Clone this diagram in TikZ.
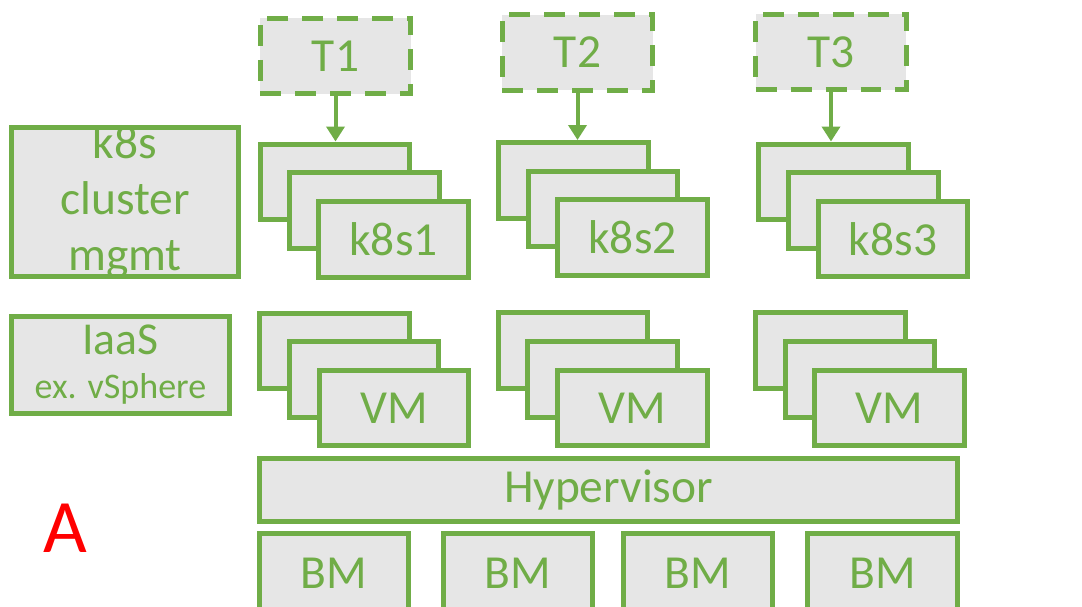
\documentclass[tikz,border=0pt]{standalone}
\usepackage{fontspec}
\setmainfont{Carlito}
\usetikzlibrary{arrows.meta}
\definecolor{mygreen}{RGB}{112,173,71}
\definecolor{mygray}{RGB}{230,230,230}

\begin{document}
\begin{tikzpicture}[x=0.02cm,y=-0.02cm,mybox/.style={rectangle, draw=mygreen, fill=mygray, text=mygreen, line width=0.1cm, inner sep=0pt, minimum width=3cm, minimum height=1.52cm, font=\fontsize{27}{32}\selectfont},mybox1/.style={mybox, dash pattern=on 0.42cm off 0.28cm, minimum width=3.02cm},mybox2/.style={mybox, minimum height=1.6cm}]
  \path[use as bounding box, fill=white] (0,0) rectangle (1082,607);
 % tenants

  \node[mybox1] (t1) at (335.5,56) {T1};
  \node[mybox1] (t2) at (577.5,52.5) {T2};
  \node[mybox1] (t3) at (831,52) {T3};

  \node[mybox, minimum width=4.56cm, minimum height=3cm, inner ysep=-0.08cm, align=center, font=\fontsize{27}{32}\selectfont] (m) at (125,202) {k8s\\cluster\\mgmt};
  \node[mybox, minimum width=4.38cm, minimum height=1.96cm, align=center, font=\fontsize{20.5}{25}\selectfont] (s) at (120.5,365) {{\fontsize{26}{25}\selectfont IaaS}\\ex. vSphere};

  \node[mybox] (a) at (335,182) {};
  \node[mybox] (b) at (364.5,210.5) {};
  \node[mybox] (c) at (393.5,239.5) {k8s1};

  \node[mybox] (d) at (573.5,180.5) {};
  \node[mybox] (e) at (603,209) {};
  \node[mybox] (f) at (632.5,237.5) {k8s2};

  \node[mybox] (g) at (833.5,182) {};
  \node[mybox] (h) at (863.5,210.5) {};
  \node[mybox] (i) at (893,239) {k8s3};

  \node[mybox] (j) at (334.5,351) {};
  \node[mybox] (k) at (364,379.5) {};
  \node[mybox] (l) at (394,408) {VM};

  \node[mybox] (n) at (573,350.5) {};
  \node[mybox] (o) at (602.5,379.5) {};
  \node[mybox] (p) at (632.5,408) {VM};

  \node[mybox] (q) at (830.5,350.5) {};
  \node[mybox] (r) at (860,379.5) {};
  \node[mybox] (u) at (889.5,408) {VM};

  \node[mybox, minimum width=13.98cm, minimum height=1.28cm] (hv) at (608.5,490) {Hypervisor};

  \node[mybox2] (w1) at (334,573) {BM};
  \node[mybox2] (w2) at (518,573) {BM};
  \node[mybox2] (w3) at (698,573) {BM};
  \node[mybox2] (w4) at (882.5,573) {BM};

  \node[text=red, font=\fontsize{43}{48}\selectfont] (x) at (65,528) {A};

    \draw[line width=0.08cm, mygreen, -{Triangle[width=0.36cm,length=0.3cm]}] (t1.south) -- (t1.south |- a.north);
    \draw[line width=0.08cm, mygreen, -{Triangle[width=0.36cm,length=0.3cm]}] (t2.south) -- (t2.south |- d.north);
    \draw[line width=0.08cm, mygreen, -{Triangle[width=0.36cm,length=0.3cm]}] (t3.south) -- (t3.south |- g.north);

\end{tikzpicture}
\end{document}
